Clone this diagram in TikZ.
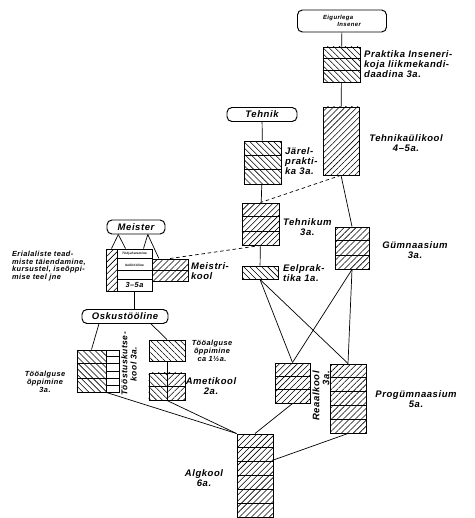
\documentclass[tikz,border=0pt]{standalone}
\usepackage{fontspec}
\setmainfont{Liberation Sans}[LetterSpace=6]
\usetikzlibrary{calc,patterns.meta}

\newcommand\lblfont{\bfseries\itshape\fontsize{13.5}{14}\selectfont}
\newcommand\smlfont{\bfseries\itshape\fontsize{10.5}{11}\selectfont}
\newcommand\tinyfont{\bfseries\itshape\fontsize{4.5}{5}\selectfont}

% horizontal dividers in a stacked box
\newcommand\layers[2]{%
  \foreach \k in {1,...,#2}{%
    \ifnum\k<#2
      \draw[frame] ($(#1.north west)!{\k/#2}!(#1.south west)$) -- ($(#1.north east)!{\k/#2}!(#1.south east)$);
    \fi}}

\begin{document}
\begin{tikzpicture}[x=0.05cm,y=-0.05cm,
    every node/.style={font=\lblfont},
    frame/.style={line width=1.4pt},
    blk/.style 2 args={draw,frame,inner sep=0pt,minimum width=#1*0.05cm,minimum height=#2*0.05cm},
    title/.style={draw,frame,rounded corners=7pt,inner sep=0pt,minimum width=#1*0.05cm,minimum height=14*0.05cm},
    hatchne/.style={pattern={Lines[angle=45,distance=6pt,line width=0.8pt]}},
    hatchnw/.style={pattern={Lines[angle=-45,distance=6pt,line width=0.8pt]}},
    conn/.style={line width=1pt},
    dashcon/.style={conn,dash pattern=on 5pt off 4pt},
    txt/.style={align=left,anchor=west,inner sep=0pt}]

  \path[use as bounding box,fill=white] (0,0) rectangle (474,518);

  % engineer branch
  \node[title=89,minimum height=22*0.05cm,font=\tinyfont\fontsize{8.5}{9}\selectfont,align=left] (insener) at (342,21) {Eigurlega\\\hspace*{2.4em}Insener};
  \node[blk={37}{35},hatchnw] (praktika) at (341.5,64.5) {};
  \layers{praktika}{3}
  \node[txt] (l-praktika) at (364,64) {Praktika Inseneri-\\koja liikmekandi-\\daadina 3a.};
  \node[blk={36}{68},hatchne] (tehkool) at (341,141) {};
  \node[align=center] (l-tehkool) at (406,143) {Tehnikaülikool\\4--5a.};

  % technician branch
  \node[title=70] (tehnik) at (262,114.5) {Tehnik};
  \node[blk={37}{43},hatchnw] (jarel) at (262.5,162.5) {};
  \layers{jarel}{3}
  \node[txt] (l-jarel) at (285,161) {Järel-\\prakti-\\ka 3a.};
  \node[blk={37}{42},hatchne] (tehnikum) at (260.5,224) {};
  \layers{tehnikum}{3}
  \node[txt,align=center] (l-tehnikum) at (283,227) {Tehnikum\\3a.};
  \node[blk={36}{13},hatchnw] (eelprak) at (260,272.5) {};
  \node[txt] (l-eelprak) at (283,273) {Eelprak-\\tika 1a.};

  % secondary schools
  \node[blk={34}{42},hatchne] (gymn) at (352,248) {};
  \layers{gymn}{3}
  \node[align=center] (l-gymn) at (415,250) {Gümnaasium\\3a.};
  \node[blk={35}{40},hatchne] (reaal) at (292.5,383) {};
  \layers{reaal}{3}
  \node[rotate=90,align=right,inner sep=0pt] (l-reaal) at (321,396) {Reaalkool\\3a.};
  \node[blk={36}{69},hatchne] (progymn) at (348,398.5) {};
  \layers{progymn}{5}
  \node[align=center] (l-progymn) at (416,399) {Progümnaasium\\5a.};
  \node[blk={36}{83},hatchne] (algkool) at (255,475.5) {};
  \layers{algkool}{6}
  \node[align=center] (l-algkool) at (204,478) {Algkool\\6a.};

  % master branch
  \node[title=58] (meister) at (136,227) {Meister};
  \node[blk={11}{42},hatchne] (meistcol) at (111.5,270) {};
  \node[blk={35}{42}] (meistmain) at (134.5,270) {};
  \foreach \f in {10,21,30}
    \draw[frame] ($(meistmain.north west)!{\f/42}!(meistmain.south west)$) -- ($(meistmain.north east)!{\f/42}!(meistmain.south east)$);
  \node[font=\tinyfont] (l-mm1) at (134.5,254) {Tööjuhatamine};
  \node[font=\tinyfont] (l-mm2) at (134.5,265) {Sellitööline};
  \node[font=\smlfont] (l-mm3) at (134.5,285) {3--5a};
  \node[blk={36}{22},hatchne] (meistkool) at (170,270) {};
  \layers{meistkool}{2}
  \node[txt] (l-meistkool) at (191,271) {Meistri-\\kool};
  \node[txt,font=\smlfont] (l-erial) at (12,266) {Erialaliste tead-\\miste täiendamine,\\kursustel, iseõppi-\\mise teel jne};

  % skilled worker branch
  \node[title=86] (oskus) at (125,316.5) {Oskustööline};
  \node[blk={29}{42},hatchnw] (tooalg) at (91.5,371) {};
  \layers{tooalg}{3}
  \node[blk={13}{42}] (kutse) at (112.5,371) {};
  \layers{kutse}{6}
  \node[align=center,font=\smlfont] (l-tooalg) at (45,382) {Tööalguse\\õppimine\\3a.};
  \node[rotate=90,align=center,inner sep=0pt,font=\bfseries\itshape\fontsize{12}{13}\selectfont] (l-kutse) at (129,364) {Tööstuskutse-\\kool 3a.};
  \node[blk={36}{21},hatchnw] (tooopp) at (167,350.5) {};
  \node[align=center,font=\smlfont] (l-tooopp) at (212,351) {Tööalguse\\õppimine\\ca 1½a.};
  \node[blk={36}{27}] (amet) at (167,386.5) {};
  \fill[hatchnw] (amet.north west) rectangle (amet.south);
  \fill[hatchne] (amet.north) rectangle (amet.south east);
  \layers{amet}{2}
  \node[align=center] (l-amet) at (211,386) {Ametikool\\2a.};

  % connectors
  \draw[conn] (insener) -- (praktika);
  \draw[conn] (praktika) -- (tehkool);
  \draw[conn] (tehnik) -- (jarel);
  \draw[conn] (jarel) -- (tehnikum);
  \draw[conn] (tehnikum) -- (eelprak);
  \draw[conn] (tehkool.south) -- (gymn.north);
  \draw[dashcon] (tehkool.south) -- (tehnikum.north);
  \draw[dashcon] (meistkool.north) -- (tehnikum.south);
  \draw[conn] (eelprak.south) -- (reaal.north);
  \draw[conn] (eelprak.south) -- (progymn.north);
  \draw[conn] (gymn.south) -- (reaal.north);
  \draw[conn] (gymn.south) -- (progymn.north);
  \draw[conn] (algkool.north) -- (reaal.south);
  \draw[conn] (algkool.40) -- (progymn.south);
  \draw[conn] (tooalg.south east) -- (algkool.north west);
  \draw[conn] (amet.south) -- (algkool.north west);
  \draw[conn] (tooopp.south) -- (amet.south);

  \coordinate (m1) at ($(meister.south west)!.2!(meister.south east)$);
  \coordinate (m2) at ($(meister.south west)!.7!(meister.south east)$);
  \draw[conn] (m1) -- (meistcol.north);
  \draw[conn] (m1) -- ($(meistmain.north west)!.25!(meistmain.north east)$);
  \draw[conn] (m2) -- ($(meistmain.north west)!.75!(meistmain.north east)$);
  \draw[conn] (m2) -- ($(meistkool.north west)!.2!(meistkool.north east)$);
  \draw[conn] (meistmain.south) -- (meistmain.south |- oskus.north);
  \draw[conn] ($(oskus.south west)!.2!(oskus.south east)$) -- (tooalg.north);
  \draw[conn] ($(oskus.south west)!.8!(oskus.south east)$) -- (tooopp.north);
\end{tikzpicture}
\end{document}
